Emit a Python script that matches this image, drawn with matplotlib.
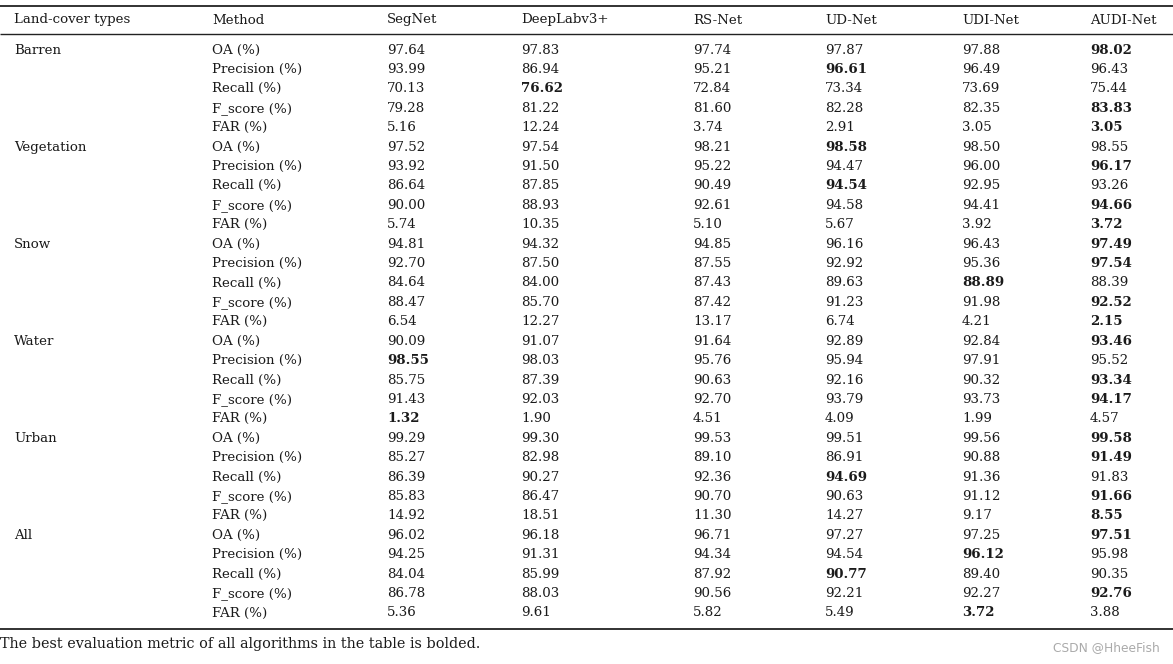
import matplotlib
matplotlib.use("Agg")
import matplotlib.pyplot as plt

land_types = ["Barren", "Vegetation", "Snow", "Water", "Urban", "All"]
metrics = ["OA (%)", "Precision (%)", "Recall (%)", "F_score (%)", "FAR (%)"]
methods = ["SegNet", "DeepLabv3+", "RS-Net", "UD-Net", "UDI-Net", "AUDI-Net"]

segnet = [97.64, 93.99, 70.13, 79.28, 5.16, 97.52, 93.92, 86.64, 90.00, 5.74,
          94.81, 92.70, 84.64, 88.47, 6.54, 90.09, 98.55, 85.75, 91.43, 1.32,
          99.29, 85.27, 86.39, 85.83, 14.92, 96.02, 94.25, 84.04, 86.78, 5.36]
deeplab = [97.83, 86.94, 76.62, 81.22, 12.24, 97.54, 91.50, 87.85, 88.93, 10.35,
           94.32, 87.50, 84.00, 85.70, 12.27, 91.07, 98.03, 87.39, 92.03, 1.90,
           99.30, 82.98, 90.27, 86.47, 18.51, 96.18, 91.31, 85.99, 88.03, 9.61]
rsnet = [97.74, 95.21, 72.84, 81.60, 3.74, 98.21, 95.22, 90.49, 92.61, 5.10,
         94.85, 87.55, 87.43, 87.42, 13.17, 91.64, 95.76, 90.63, 92.70, 4.51,
         99.53, 89.10, 92.36, 90.70, 11.30, 96.71, 94.34, 87.92, 90.56, 5.82]
udnet = [97.87, 96.61, 73.34, 82.28, 2.91, 98.58, 94.47, 94.54, 94.58, 5.67,
         96.16, 92.92, 89.63, 91.23, 6.74, 92.89, 95.94, 92.16, 93.79, 4.09,
         99.51, 86.91, 94.69, 90.63, 14.27, 97.27, 94.54, 90.77, 92.21, 5.49]
udinet = [97.88, 96.49, 73.69, 82.35, 3.05, 98.50, 96.00, 92.95, 94.41, 3.92,
          96.43, 95.36, 88.89, 91.98, 4.21, 92.84, 97.91, 90.32, 93.73, 1.99,
          99.56, 90.88, 91.36, 91.12, 9.17, 97.25, 96.12, 89.40, 92.27, 3.72]
audinet = [98.02, 96.43, 75.44, 83.83, 3.05, 98.55, 96.17, 93.26, 94.66, 3.72,
           97.49, 97.54, 88.39, 92.52, 2.15, 93.46, 95.52, 93.34, 94.17, 4.57,
           99.58, 91.49, 91.83, 91.66, 8.55, 97.51, 95.98, 90.35, 92.76, 3.88]
# index of the bolded (best) method for each row
bold_idx = [5, 3, 1, 5, 5,
            3, 5, 3, 5, 5,
            5, 5, 4, 5, 5,
            5, 0, 5, 5, 0,
            5, 5, 3, 5, 5,
            5, 4, 3, 5, 4]

footnote = "The best evaluation metric of all algorithms in the table is bolded."
watermark = "CSDN @HheeFish"

series = [segnet, deeplab, rsnet, udnet, udinet, audinet]

W, H = 1173, 664
fig = plt.figure(figsize=(W / 100, H / 100), dpi=100)
ax = fig.add_axes([0, 0, 1, 1])
ax.set_xlim(0, W)
ax.set_ylim(H, 0)
ax.axis("off")

FONT = "DejaVu Serif"
FS = 9.6
TXT = "#1a1a1a"
col_x = [14, 212, 387, 521, 693, 825, 962, 1090]
header_y = 20
row0 = 50
dy = (613 - 50) / 29

# rules
ax.plot([0, W], [5.5, 5.5], color="#222222", lw=1.3, solid_capstyle="butt")
ax.plot([0, W], [33.5, 33.5], color="#222222", lw=1.0, solid_capstyle="butt")
ax.plot([0, W], [628.5, 628.5], color="#222222", lw=1.3, solid_capstyle="butt")

headers = ["Land-cover types", "Method"] + methods
for x, h in zip(col_x, headers):
    ax.text(x, header_y, h, fontfamily=FONT, fontsize=FS, va="center", ha="left", color=TXT)

n_metrics = len(metrics)
for r in range(len(land_types) * n_metrics):
    y = row0 + r * dy
    if r % n_metrics == 0:
        ax.text(col_x[0], y, land_types[r // n_metrics], fontfamily=FONT, fontsize=FS,
                va="center", ha="left", color=TXT)
    ax.text(col_x[1], y, metrics[r % n_metrics], fontfamily=FONT, fontsize=FS,
            va="center", ha="left", color=TXT)
    for c, s in enumerate(series):
        ax.text(col_x[2 + c], y, f"{s[r]:.2f}", fontfamily=FONT, fontsize=FS,
                va="center", ha="left", color=TXT,
                fontweight="bold" if bold_idx[r] == c else "normal")

ax.text(0, 644, footnote, fontfamily=FONT, fontsize=10.4, va="center", ha="left", color=TXT)
ax.text(1160, 648, watermark, fontfamily="DejaVu Sans", fontsize=8.8, va="center", ha="right",
        color="#aaaaaa")

fig.savefig("out.png", dpi=100)
